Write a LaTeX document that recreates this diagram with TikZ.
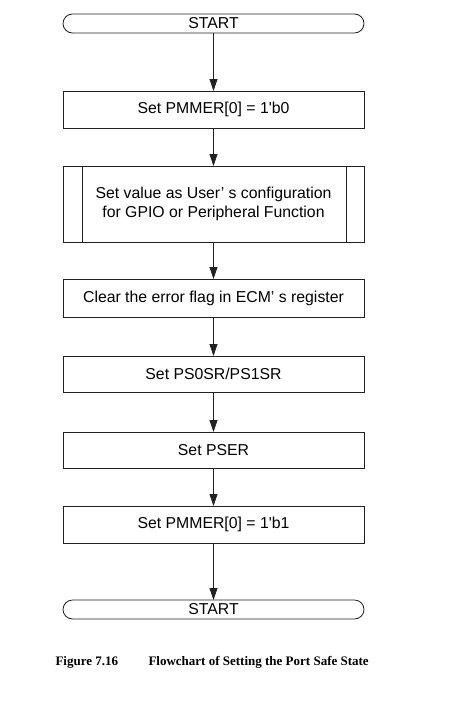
\documentclass[tikz,border=0pt]{standalone}
\usepackage{fontspec}
\setmainfont{Liberation Sans}[Ligatures=TeXOff]
\newfontfamily\capfont{Liberation Serif}
\usetikzlibrary{positioning,arrows.meta}
\definecolor{ink}{HTML}{222222}

\begin{document}
\begin{tikzpicture}[x=1pt,y=-1pt,
  font=\fontsize{15.8}{18.5}\selectfont,
  box/.style={draw=ink,line width=0.8pt,align=center,outer sep=0pt,inner sep=0pt,
              minimum width=301pt,minimum height=37pt},
  term/.style={box,rounded corners=9.5pt,minimum height=19pt},
  sub/.style={box,minimum height=76pt},
  a/.style={-{Triangle[length=12pt,width=8pt]},draw=ink,line width=0.8pt}]
\useasboundingbox (0,0) rectangle (457,707);
\node[term] (st) at (213.5,23.5) {START};
\node[box,below=58pt of st] (p0) {Set PMMER[0] = 1'b0};
\node[sub,below=38pt of p0] (cfg) {Set value as User’ s configuration\\for GPIO or Peripheral Function};
\node[box,below=37pt of cfg,minimum height=38pt] (clr) {Clear the error flag in ECM’ s register};
\node[box,below=39pt of clr,minimum height=36pt] (ps) {Set PS0SR/PS1SR};
\node[box,below=40pt of ps,minimum height=36pt] (pser) {Set PSER};
\node[box,below=38pt of pser] (p1) {Set PMMER[0] = 1'b1};
\node[term,below=57pt of p1] (en) {START};
\draw[draw=ink,line width=0.8pt] ([xshift=19pt]cfg.north west) -- ([xshift=19pt]cfg.south west)
  ([xshift=-18pt]cfg.north east) -- ([xshift=-18pt]cfg.south east);
\draw[a] (st)--(p0); \draw[a] (p0)--(cfg); \draw[a] (cfg)--(clr); \draw[a] (clr)--(ps);
\draw[a] (ps)--(pser); \draw[a] (pser)--(p1); \draw[a] (p1)--(en);
\node[anchor=west,font=\capfont\bfseries\fontsize{13}{15}\selectfont] (fig) at (52,662) {Figure 7.16};
\node[anchor=west,font=\capfont\bfseries\fontsize{13}{15}\selectfont] (cap) at (145,662) {Flowchart of Setting the Port Safe State};
\end{tikzpicture}
\end{document}
